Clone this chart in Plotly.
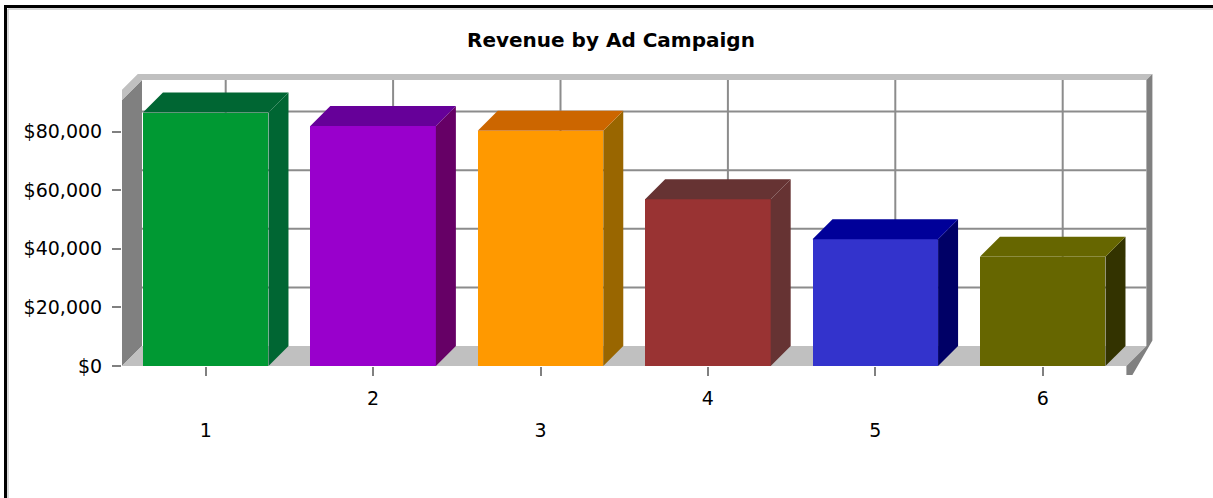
import plotly.graph_objects as go

# Revenue per ad campaign
campaigns = [1, 2, 3, 4, 5, 6]
revenue = [86500, 81900, 80300, 56900, 43300, 37300]
front_colors = ["#009933", "#9900CC", "#FF9900", "#993333", "#3333CC", "#666600"]
top_colors = ["#006633", "#660099", "#CC6600", "#663333", "#000099", "#666600"]
side_colors = ["#006633", "#660066", "#996600", "#663333", "#000066", "#333300"]
y_ticks = [0, 20000, 40000, 60000, 80000]
y_tick_labels = ["$0", "$20,000", "$40,000", "$60,000", "$80,000"]

# ---- figure geometry (pixels) ----
W, H = 1213, 498
M_L, M_R, M_T, M_B = 122, 43, 60, 116
ZERO_PX = 366                 # pixel row of the front floor edge
PX_PER_CAT = 167.4
PX_PER_VAL = 2.93 / 1000
DEPTH = 20                    # 3-D depth offset in pixels
CAP = 6                       # wall thickness in pixels
WALL_TOP = 90800              # height of the back wall (value units)

plot_w = W - M_L - M_R
plot_h = H - M_T - M_B
x_lo = 0.5
x_hi = x_lo + plot_w / PX_PER_CAT
y_lo = -(H - M_B - ZERO_PX) / PX_PER_VAL
y_hi = (ZERO_PX - M_T) / PX_PER_VAL

dX = DEPTH / PX_PER_CAT
dY = DEPTH / PX_PER_VAL
cX = CAP / PX_PER_CAT
cY = CAP / PX_PER_VAL
bar_w = 0.75
x0, x1 = 0.5, len(campaigns) + 0.5

fig = go.Figure()


def poly(xs, ys, color, name, xa="x", ya="y"):
    fig.add_trace(go.Scatter(
        x=xs + xs[:1], y=ys + ys[:1], mode="lines", fill="toself",
        fillcolor=color, line=dict(width=0, color=color), xaxis=xa, yaxis=ya,
        hoverinfo="skip", showlegend=False, name=name))


# ---- chart box on the base axes (x / y) ----
# left wall
poly([x0, x0 + dX, x0 + dX, x0], [0, dY, WALL_TOP + dY, WALL_TOP], "#808080", "left wall")
# back wall gridlines: horizontal at each value tick, vertical at each campaign
gx, gy = [], []
for v in y_ticks[1:]:
    gx += [x0 + dX, x1 + dX, None]
    gy += [v + dY, v + dY, None]
for c in campaigns:
    gx += [c + dX, c + dX, None]
    gy += [dY, WALL_TOP + dY, None]
fig.add_trace(go.Scatter(x=gx, y=gy, mode="lines", line=dict(color="#8c8c8c", width=2),
                         hoverinfo="skip", showlegend=False))
# wall cap (top edge of back and left walls)
poly([x0, x0 + dX, x1 + dX, x1 + dX + cX, x0 + dX - cX * 0.7, x0 - cX],
     [WALL_TOP, WALL_TOP + dY, WALL_TOP + dY, WALL_TOP + dY + cY, WALL_TOP + dY + cY, WALL_TOP + cY * 0.7],
     "#c0c0c0", "cap")
# floor
poly([x0, x1, x1 + dX, x0 + dX], [0, 0, dY, dY], "#c0c0c0", "floor")
# right edge of back wall and floor slab
poly([x1 + dX, x1 + dX + cX, x1 + dX + cX, x1 + cX, x1, x1, x1 + dX],
     [WALL_TOP + dY, WALL_TOP + dY + cY, dY + cY * 0.9, -cY * 1.5, -cY * 1.5, 0, dY],
     "#808080", "right edge")

# ---- bars on the overlaying axes (x2 / y2), drawn above the box ----
for c, v, tc, sc in zip(campaigns, revenue, top_colors, side_colors):
    l, r = c - bar_w / 2, c + bar_w / 2
    poly([r, r + dX, r + dX, r], [0, dY, v + dY, v], sc, f"side {c}", "x2", "y2")
    poly([l, r, r + dX, l + dX], [v, v, v + dY, v + dY], tc, f"top {c}", "x2", "y2")

fig.add_trace(go.Bar(
    x=campaigns, y=revenue, width=bar_w, xaxis="x2", yaxis="y2",
    marker=dict(color=front_colors, line=dict(width=0)),
    showlegend=False, hovertemplate="Campaign %{x}: $%{y:,}<extra></extra>"))

label_font = dict(family="DejaVu Sans", size=19, color="#000000")
axis_pos = (H - M_B - ZERO_PX) / plot_h

fig.update_layout(
    width=W, height=H,
    margin=dict(l=M_L, r=M_R, t=M_T, b=M_B),
    paper_bgcolor="white", plot_bgcolor="white",
    title=dict(text="<b>Revenue by Ad Campaign</b>", x=611 / W, xref="container",
               y=1 - 40 / H, yref="container", xanchor="center", yanchor="middle",
               font=dict(family="DejaVu Sans", size=20, color="#000000")),
    # even campaign labels sit close to the axis, odd ones one row lower
    xaxis=dict(range=[x_lo, x_hi], showgrid=False, zeroline=False, showline=False,
               anchor="free", position=axis_pos,
               tickmode="array", tickvals=campaigns,
               ticktext=["" if c % 2 else str(c) for c in campaigns],
               ticks="outside", ticklen=9, tickwidth=1.5, tickcolor="#808080",
               ticklabelstandoff=6, tickfont=label_font),
    xaxis2=dict(range=[x_lo, x_hi], overlaying="x", anchor="free", position=axis_pos,
                showgrid=False, zeroline=False, showline=False,
                tickmode="array", tickvals=[c for c in campaigns if c % 2],
                ticktext=[str(c) for c in campaigns if c % 2],
                ticks="", ticklabelstandoff=51, tickfont=label_font),
    yaxis=dict(range=[y_lo, y_hi], showgrid=False, zeroline=False, showline=False,
               tickmode="array", tickvals=y_ticks, ticktext=y_tick_labels,
               ticks="outside", ticklen=9, tickwidth=1.5, tickcolor="#808080",
               ticklabelstandoff=6, tickfont=label_font),
    yaxis2=dict(range=[y_lo, y_hi], overlaying="y", visible=False),
    bargap=0,
)


# frame around the chart
def px_x(p):
    return (p - M_L) / plot_w


def px_y(p):
    return (H - M_B - p) / plot_h


fig.add_shape(type="rect", xref="paper", yref="paper",
              x0=px_x(5.5), x1=px_x(W + 20), y0=px_y(6.5), y1=px_y(H + 20),
              line=dict(color="#000000", width=3), layer="above")
fig.add_shape(type="rect", xref="paper", yref="paper",
              x0=px_x(8), x1=px_x(W + 20), y0=px_y(9), y1=px_y(H + 20),
              line=dict(color="#b0b0b0", width=1), layer="above")

fig.write_html("out.html")
